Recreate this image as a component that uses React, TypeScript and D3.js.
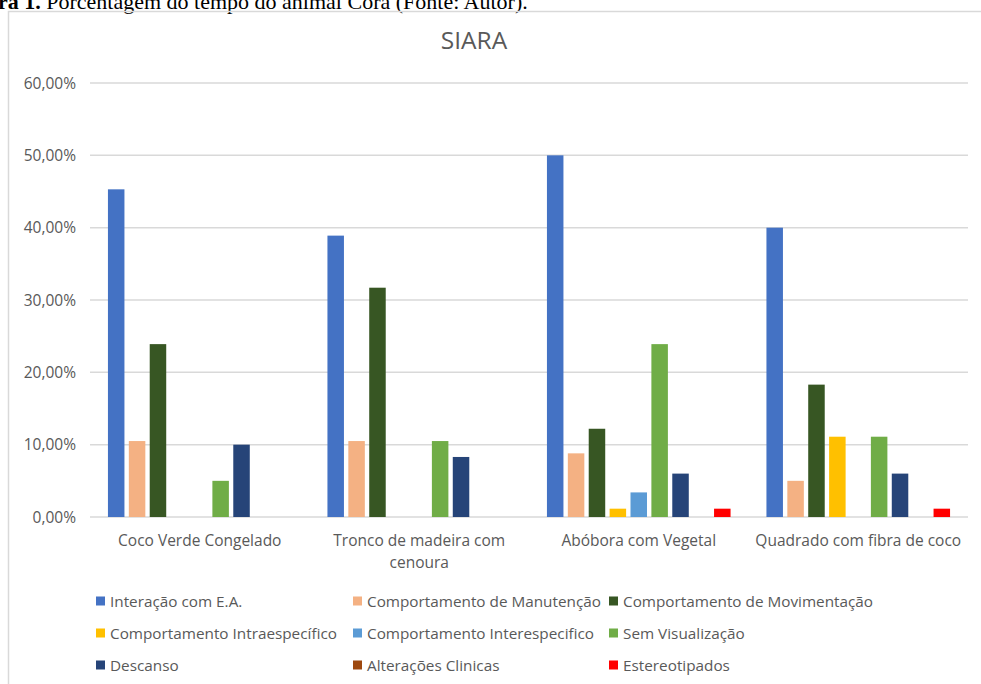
import React from "react";
import * as d3 from "d3";

const chartTitle = "SIARA";
const captionBold = "ra 1.";
const captionRest = " Porcentagem do tempo do animal Cora (Fonte: Autor).";

const categories = [
  "Coco Verde Congelado",
  "Tronco de madeira com cenoura",
  "Abóbora com Vegetal",
  "Quadrado com fibra de coco",
];
const categoryLines = [
  ["Coco Verde Congelado"],
  ["Tronco de madeira com", "cenoura"],
  ["Abóbora com Vegetal"],
  ["Quadrado com fibra de coco"],
];

const seriesNames = [
  "Interação com E.A.",
  "Comportamento de Manutenção",
  "Comportamento de Movimentação",
  "Comportamento Intraespecífico",
  "Comportamento Interespecifico",
  "Sem Visualização",
  "Descanso",
  "Alterações Clinicas",
  "Estereotipados",
];
const seriesColors = [
  "#4472C4",
  "#F4B183",
  "#375623",
  "#FFC000",
  "#5B9BD5",
  "#70AD47",
  "#264478",
  "#9E480E",
  "#FF0000",
];

// values in % per series, order = categories
const interacao = [45.3, 38.9, 50.0, 40.0];
const manutencao = [10.5, 10.5, 8.8, 5.0];
const movimentacao = [23.9, 31.7, 12.2, 18.3];
const intraespecifico = [0, 0, 1.15, 11.1];
const interespecifico = [0, 0, 3.4, 0];
const semVisualizacao = [5.0, 10.5, 23.9, 11.1];
const descanso = [10.0, 8.3, 6.0, 6.0];
const alteracoes = [0, 0, 0, 0];
const estereotipados = [0, 0, 1.15, 1.15];

const seriesValues = [
  interacao,
  manutencao,
  movimentacao,
  intraespecifico,
  interespecifico,
  semVisualizacao,
  descanso,
  alteracoes,
  estereotipados,
];

const yTicks = [0, 10, 20, 30, 40, 50, 60];

const W = 981;
const H = 684;
const FONT = "'Open Sans', sans-serif";
const TXT = "#595959";

export default function App() {
  const plotLeft = 90;
  const plotRight = 968;
  const y = d3.scaleLinear().domain([0, 60]).range([517, 83]);
  const x0 = d3
    .scaleBand<string>()
    .domain(categories)
    .range([plotLeft, plotRight])
    .paddingInner(0.1435)
    .paddingOuter(0.07175);
  const x1 = d3
    .scaleBand<string>()
    .domain(seriesNames)
    .range([0, x0.bandwidth()])
    .paddingInner(0.21)
    .paddingOuter(0.105);
  const fmt = (v: number) => v.toFixed(2).replace(".", ",") + "%";

  const legendCols = [100, 357, 613];
  const legendRows = [601, 633, 665];

  return (
    <svg
      width={W}
      height={H}
      style={{ position: "absolute", left: 0, top: 0, background: "#fff" }}
    >
      <rect x={0} y={0} width={W} height={H} fill="#fff" />
      <text x={-2} y={9} fontFamily="'Liberation Serif', serif" fontSize={22} fill="#000">
        <tspan fontWeight="bold">{captionBold}</tspan>
        <tspan>{captionRest}</tspan>
      </text>
      <rect x={8.5} y={11.5} width={W + 10} height={H} fill="none" stroke="#d9d9d9" strokeWidth={1.5} />
      <text x={474} y={49} textAnchor="middle" fontFamily={FONT} fontSize={24.5} fill={TXT}>
        {chartTitle}
      </text>
      {yTicks.map((t) => (
        <g key={t}>
          <line x1={plotLeft} x2={plotRight} y1={y(t)} y2={y(t)} stroke="#d9d9d9" strokeWidth={1.5} />
          <text x={76} y={y(t)} dy="0.36em" textAnchor="end" fontFamily={FONT} fontSize={15.5} fill={TXT}>
            {fmt(t)}
          </text>
        </g>
      ))}
      {categories.map((c, ci) => (
        <g key={c} transform={`translate(${x0(c)},0)`}>
          {seriesNames.map((s, si) => {
            const v = seriesValues[si][ci];
            if (!v) return null;
            return (
              <rect
                key={s}
                x={x1(s)}
                y={y(v)}
                width={x1.bandwidth()}
                height={y(0) - y(v)}
                fill={seriesColors[si]}
              />
            );
          })}
          {categoryLines[ci].map((line, li) => (
            <text
              key={li}
              x={x0.bandwidth() / 2}
              y={546 + li * 22}
              textAnchor="middle"
              fontFamily={FONT}
              fontSize={15.5}
              fill={TXT}
            >
              {line}
            </text>
          ))}
        </g>
      ))}
      {seriesNames.map((s, i) => {
        const cx = legendCols[i % 3];
        const cy = legendRows[Math.floor(i / 3)];
        return (
          <g key={s}>
            <rect x={cx - 4} y={cy - 4.5} width={9} height={9} fill={seriesColors[i]} />
            <text x={cx + 10} y={cy} dy="0.36em" fontFamily={FONT} fontSize={15.3} fill={TXT}>
              {s}
            </text>
          </g>
        );
      })}
    </svg>
  );
}
